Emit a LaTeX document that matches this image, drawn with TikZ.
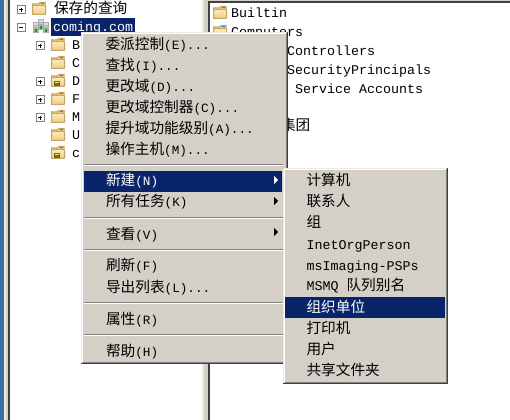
\documentclass[tikz,border=0pt]{standalone}
\usepackage{fontspec}
\setmainfont{Liberation Mono}
\newfontfamily\cjfont{Noto Sans CJK SC}[Scale=1]
\newcommand{\cj}[1]{{\fontsize{11pt}{13pt}\cjfont #1}}
\newcommand{\la}[1]{{\fontsize{9.5pt}{13pt}\selectfont #1}}
\definecolor{menugray}{HTML}{D4D0C8}
\definecolor{selblue}{HTML}{0A246A}
\definecolor{deskblue}{HTML}{3A6EA5}
\definecolor{edgedark}{HTML}{404040}
\definecolor{edgemid}{HTML}{808080}
\definecolor{foldtop}{HTML}{FBEBBB}
\definecolor{foldbot}{HTML}{EFCB80}
\definecolor{foldedge}{HTML}{C4A566}
\definecolor{edgelight}{HTML}{ECE9E0}
\tikzset{
  x=0.75pt,y=-0.75pt,
  lab/.style={anchor=base west,inner sep=0pt,outer sep=0pt,font=\fontsize{10pt}{13pt}\selectfont,text=black},
  sellab/.style={lab,text=white},
  pix/.style={line width=0.75pt},
  foldicon/.pic={
    \fill[foldbot,draw=foldedge,pix] (0.5,2) -- (6,2) -- (8,0.5) -- (13,0.5) -- (13,12.5) -- (0.5,12.5) -- cycle;
    \shade[top color=foldtop,bottom color=foldbot,draw=foldedge,pix,rounded corners=0.6pt] (0.5,3.5) rectangle (13.5,12.5);
    \fill[blue!45!cyan] (8.5,1) rectangle (11.5,2.5);
  },
  ofoldicon/.pic={
    \pic at (0,0) {foldicon};
    \fill[olive!70!black] (3,7) rectangle (9,12);
    \fill[yellow!75!white] (4,8) rectangle (8,9.5);
  },
  plusicon/.pic={
    \draw[edgemid,fill=white,pix] (0,0) rectangle (8,8);
    \draw[black,pix] (2,4) -- (6,4) (4,2) -- (4,6);
  },
  minusicon/.pic={
    \draw[edgemid,fill=white,pix] (0,0) rectangle (8,8);
    \draw[black,pix] (2,4) -- (6,4);
  },
  tower/.pic={
    \fill[gray!65] (0,0) rectangle (5.5,11);
    \fill[gray!25] (1,1) rectangle (4.5,3);
    \fill[gray!40] (1,4) rectangle (4.5,5);
    \fill[green!70!black] (1.5,7.5) rectangle (4,10);
  },
  marrow/.pic={\fill (0,-4) -- (4,0) -- (0,4) -- cycle;}
}
\newcommand{\winbox}[4]{% x0 y0 x1 y1
  \fill[menugray] (#1,#2) rectangle (#3,#4);
  \draw[edgelight,pix] (#1+.5,#4) -- (#1+.5,#2+.5) -- (#3,#2+.5);
  \draw[white,pix] (#1+1.5,#4-2) -- (#1+1.5,#2+1.5) -- (#3-2,#2+1.5);
  \draw[edgemid,pix] (#1+1.5,#4-1.5) -- (#3-1.5,#4-1.5) -- (#3-1.5,#2+1.5);
  \draw[edgedark,pix] (#1,#4-.5) -- (#3-.5,#4-.5) -- (#3-.5,#2);
}
\newcommand{\msep}[1]{%
  \draw[edgemid,pix] (84,#1) -- (283,#1);
  \draw[white,pix] (84,#1+1) -- (283,#1+1);
}
\begin{document}
\begin{tikzpicture}
\useasboundingbox (0,0) rectangle (510,420);
\fill[white] (0,0) rectangle (510,420);
% window frame
\fill[deskblue] (0,0) rectangle (4,420);
\fill[edgelight] (4,0) rectangle (5.5,420);
\fill[menugray] (5.5,0) rectangle (8,420);
\fill[edgedark] (8,0) rectangle (10,420);
\fill[edgelight] (202,0) rectangle (203.5,420);
\fill[menugray] (203.5,0) rectangle (207.5,420);
\fill[edgedark] (207.5,0) rectangle (209.5,420);
\fill[menugray] (207.5,0) rectangle (510,1.5);
\fill[edgedark] (207.5,1.5) rectangle (510,3);
% left tree
\pic at (17,6) {plusicon};
\pic at (32,2) {foldicon};
\node[lab] (q1) at (54,14) {\cj{保存的查询}};
\pic at (17,24) {minusicon};
\pic at (33,22) {tower};
\pic at (43,22) {tower};
\pic at (38,19) {tower};
\fill[selblue] (51,18) rectangle (135,36);
\node[sellab] (dom) at (53,32) {coming.com};
\pic at (36,42) {plusicon};
\pic at (36,78) {plusicon};
\pic at (36,96) {plusicon};
\pic at (36,114) {plusicon};
\pic at (51,38) {foldicon};
\pic at (51,56) {foldicon};
\pic at (51,74) {ofoldicon};
\pic at (51,92) {foldicon};
\pic at (51,110) {foldicon};
\pic at (51,128) {foldicon};
\pic at (51,146) {ofoldicon};
\node[lab] (tb) at (72,50) {B};
\node[lab] (tc) at (72,68) {C};
\node[lab] (td) at (72,86) {D};
\node[lab] (tf) at (72,104) {F};
\node[lab] (tm) at (72,122) {M};
\node[lab] (tu) at (72,140) {U};
\node[lab] (tl) at (72,158) {c};
% right list
\pic at (213,6) {foldicon};
\node[lab] (r1) at (231,18) {Builtin};
\pic at (213,25) {foldicon};
\node[lab] (r2) at (231,37) {Computers};
\node[lab] (r3) at (287,56) {Controllers};
\node[lab] (r4) at (287,75) {SecurityPrincipals};
\node[lab] (r5) at (295,94) {Service Accounts};
\node[lab] (r6) at (281,131) {\cj{集团}};
% context menu
\winbox{81}{32}{288}{364}
\node[lab] (m1) at (105.5,50) {\cj{委派控制}\la{(E)...}};
\node[lab] (m2) at (105.5,71) {\cj{查找}\la{(I)...}};
\node[lab] (m3) at (105.5,92) {\cj{更改域}\la{(D)...}};
\node[lab] (m4) at (105.5,113) {\cj{更改域控制器}\la{(C)...}};
\node[lab] (m5) at (105.5,134) {\cj{提升域功能级别}\la{(A)...}};
\node[lab] (m6) at (105.5,155) {\cj{操作主机}\la{(M)...}};
\msep{164.5}
\fill[selblue] (84,171) rectangle (282,192);
\node[sellab] (m7) at (106,186) {\cj{新建}\la{(N)}};
\node[lab] (m8) at (106,207) {\cj{所有任务}\la{(K)}};
\msep{217.5}
\node[lab] (m9) at (106,239) {\cj{查看}\la{(V)}};
\msep{249.5}
\node[lab] (m10) at (106,271) {\cj{刷新}\la{(F)}};
\node[lab] (m11) at (106,292) {\cj{导出列表}\la{(L)...}};
\msep{302.5}
\node[lab] (m12) at (106,324) {\cj{属性}\la{(R)}};
\msep{334.5}
\node[lab] (m13) at (106,356) {\cj{帮助}\la{(H)}};
\pic[white] at (274,180) {marrow};
\pic[black] at (274,201) {marrow};
\pic[black] at (274,232) {marrow};
% submenu
\winbox{283}{168}{448}{384}
\fill[selblue] (285,297) rectangle (445,318);
\node[lab] (s1) at (306.5,186) {\cj{计算机}};
\node[lab] (s2) at (306.5,207) {\cj{联系人}};
\node[lab] (s3) at (306.5,228) {\cj{组}};
\node[lab] (s4) at (306.5,250) {InetOrgPerson};
\node[lab] (s5) at (306.5,271) {msImaging-PSPs};
\node[lab] (s6) at (306.5,291) {MSMQ \cj{队列别名}};
\node[sellab] (s7) at (306.5,312) {\cj{组织单位}};
\node[lab] (s8) at (306.5,333) {\cj{打印机}};
\node[lab] (s9) at (306.5,354) {\cj{用户}};
\node[lab] (s10) at (306.5,375) {\cj{共享文件夹}};
\end{tikzpicture}
\end{document}
